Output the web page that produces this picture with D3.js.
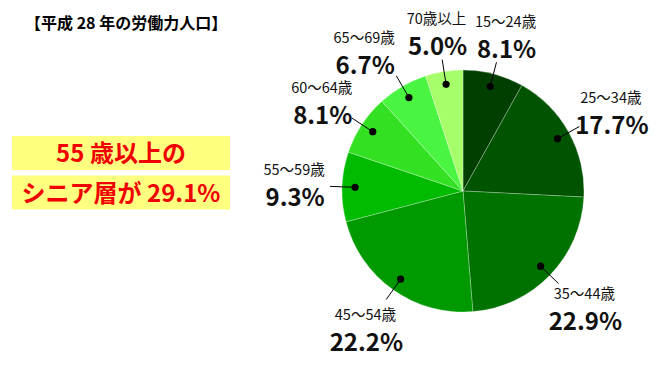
<!DOCTYPE html>
<html lang="ja">
<head>
    <meta charset="UTF-8">
    <title>平成28年の労働力人口</title>
    <style>
        body { margin: 0; background: #fff; }
        svg { display: block; font-family: "Noto Sans CJK JP", "Noto Sans", sans-serif; }
    </style>
</head>
<body>
    <div class="chart"></div>

    <script src="https://d3js.org/d3.v7.min.js"></script>
    <script>
        var width = 657
        var height = 367

        // data
        var ageGroups = ["15〜24歳", "25〜34歳", "35〜44歳", "45〜54歳", "55〜59歳", "60〜64歳", "65〜69歳", "70歳以上"]
        var shares = [8.1, 17.7, 22.9, 22.2, 9.3, 8.1, 6.7, 5.0]
        var sliceColors = ["#003f00", "#005400", "#007200", "#009a00", "#00bb00", "#33e022", "#4af542", "#a6ff6a"]
        var titleText = "【平成 28 年の労働力人口】"
        var calloutLines = ["55 歳以上の", "シニア層が 29.1%"]

        var cx = 463, cy = 191, radius = 121

        var svg = d3.select(".chart").append("svg")
            .attr("width", width)
            .attr("height", height)

        // title
        svg.append("text")
            .attr("x", 25)
            .attr("y", 29)
            .attr("font-size", 16)
            .attr("font-weight", "bold")
            .text(titleText)

        // yellow callout boxes
        var callout = svg.append("g")
        callout.selectAll("rect")
            .data(calloutLines)
            .enter()
            .append("rect")
            .attr("x", 12)
            .attr("y", function(d, i) { return 136 + i * 39.5 })
            .attr("width", 218)
            .attr("height", 34)
            .attr("fill", "#ffff80")
        callout.selectAll("text")
            .data(calloutLines)
            .enter()
            .append("text")
            .attr("x", 121)
            .attr("y", function(d, i) { return 162 + i * 39.5 })
            .attr("text-anchor", "middle")
            .attr("font-size", 24)
            .attr("font-weight", "bold")
            .attr("fill", "#f00000")
            .text(function(d) { return d })

        var pie = d3.pie().sort(null).value(function(d) { return d })
        var arcs = pie(shares)

        var arc = d3.arc().innerRadius(0).outerRadius(radius)

        var g = svg.append("g").attr("transform", "translate(" + cx + "," + cy + ")")

        g.selectAll("path")
            .data(arcs)
            .enter()
            .append("path")
            .attr("d", arc)
            .attr("fill", function(d, i) { return sliceColors[i] })
            .attr("stroke", "rgba(255,255,255,0.45)")
            .attr("stroke-width", 0.6)

        function polar(r, a) { return [Math.sin(a) * r, -Math.cos(a) * r] }
        function mid(d) { return (d.startAngle + d.endAngle) / 2 }

        var dotR = 108, lineR = 133

        var labels = g.selectAll("g.label")
            .data(arcs)
            .enter()
            .append("g")
            .attr("class", "label")

        labels.append("line")
            .attr("x1", function(d) { return polar(dotR, mid(d))[0] })
            .attr("y1", function(d) { return polar(dotR, mid(d))[1] })
            .attr("x2", function(d) { return polar(lineR, mid(d))[0] })
            .attr("y2", function(d) { return polar(lineR, mid(d))[1] })
            .attr("stroke", "#000")
            .attr("stroke-width", 1)

        labels.append("circle")
            .attr("cx", function(d) { return polar(dotR, mid(d))[0] })
            .attr("cy", function(d) { return polar(dotR, mid(d))[1] })
            .attr("r", 3.6)
            .attr("fill", "#000")

        // label block centre sits beyond the line end (more room below the pie)
        function blockCentre(d) {
            var a = mid(d)
            var e = polar(lineR, a)
            var down = -Math.cos(a)
            return [e[0] + Math.sin(a) * 36, e[1] + down * (down > 0 ? 38 : 25)]
        }

        var blocks = labels.append("g")
            .attr("class", "block")
            .attr("transform", function(d) {
                var c = blockCentre(d)
                return "translate(" + c[0] + "," + c[1] + ")"
            })

        blocks.append("text")
            .attr("y", -11)
            .attr("text-anchor", "middle")
            .attr("font-size", 14.5)
            .attr("fill", "#111")
            .text(function(d, i) { return ageGroups[i] })

        blocks.append("text")
            .attr("x", 1)
            .attr("y", 20)
            .attr("text-anchor", "middle")
            .attr("font-size", 24)
            .attr("font-weight", "bold")
            .attr("fill", "#111")
            .text(function(d) { return d.data.toFixed(1) + "%" })

        // push left-hand blocks apart from their clockwise neighbour if they collide
        var nodes = blocks.nodes()
        var gap = 12
        for (var i = nodes.length - 2; i >= 0; i--) {
            var d = arcs[i]
            if (Math.sin(mid(d)) >= 0) continue
            var a = nodes[i].getBoundingClientRect()
            var b = nodes[i + 1].getBoundingClientRect()
            var vOverlap = a.bottom > b.top + 20 && a.top < b.bottom - 20
            if (vOverlap && a.right + gap > b.left) {
                var c = blockCentre(d)
                var dx = -(a.right + gap - b.left)
                d3.select(nodes[i]).attr("transform", "translate(" + (c[0] + dx) + "," + c[1] + ")")
            }
        }
    </script>
</body>
</html>
